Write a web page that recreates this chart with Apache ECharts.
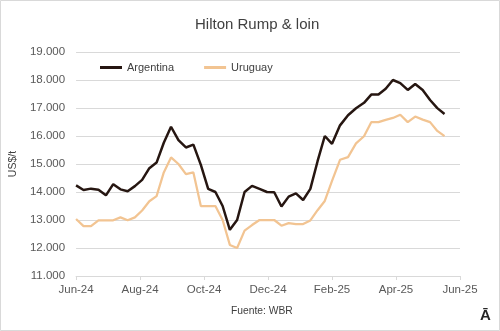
<!DOCTYPE html>
<html>
<head>
<meta charset="utf-8">
<script src="https://cdn.jsdelivr.net/npm/echarts@6/dist/echarts.min.js"></script>
<style>
  html, body { margin: 0; padding: 0; background: #ffffff; }
  #chart { width: 500px; height: 331px; }
</style>
</head>
<body>
<div id="chart"></div>
<script>
// Weekly observations starting 1 Jun 2024
const startDate = '2024-06-01';
const argentina = [
  14235, 14070, 14120, 14080, 13880, 14280, 14095, 14025, 14210, 14435,
  14850, 15050, 15760, 16330, 15850, 15590, 15690, 14970, 14110, 14000,
  13500, 12650, 13000, 14000, 14220, 14110, 14000, 13990, 13480, 13835,
  13950, 13715, 14110, 15100, 16000, 15720, 16380, 16740, 16990, 17185,
  17480, 17480, 17685, 18000, 17890, 17645, 17860, 17645, 17285, 16995,
  16785
];
const uruguay = [
  13035, 12780, 12780, 12990, 12990, 12990, 13095, 12990, 13095, 13340,
  13670, 13850, 14700, 15235, 15000, 14640, 14700, 13500, 13500, 13500,
  13000, 12110, 12000, 12620, 12820, 13000, 13000, 13000, 12795, 12890,
  12855, 12855, 12985, 13350, 13680, 14400, 15150, 15245, 15735, 15990,
  16495, 16495, 16575, 16645, 16760, 16495, 16695, 16585, 16495, 16180,
  15995
];
const xTickLabels = ['Jun-24', 'Aug-24', 'Oct-24', 'Dec-24', 'Feb-25', 'Apr-25', 'Jun-25'];
const seriesNames = ['Argentina', 'Uruguay'];

// convert each weekly date to a fractional month position (0 = 1 Jun 2024)
function monthPos(d) {
  const y = d.getUTCFullYear(), m = d.getUTCMonth();
  const dim = new Date(Date.UTC(y, m + 1, 0)).getUTCDate();
  return (y - 2024) * 12 + (m - 5) + (d.getUTCDate() - 1) / dim;
}
const t0 = Date.parse(startDate + 'T00:00:00Z');
const xs = argentina.map((_, i) => monthPos(new Date(t0 + i * 7 * 86400000)));

const font = "'Liberation Sans', Arial, sans-serif";
const chart = echarts.init(document.getElementById('chart'), null, { renderer: 'canvas' });
chart.setOption({
  animation: false,
  backgroundColor: '#ffffff',
  textStyle: { fontFamily: font },
  title: {
    text: 'Hilton Rump & loin',
    left: 195, top: 17, padding: 0,
    textStyle: { fontFamily: font, fontSize: 15, fontWeight: 'normal', color: '#404040' }
  },
  legend: {
    left: 100, top: 62, padding: 0,
    icon: 'rect', itemWidth: 22, itemHeight: 3, itemGap: 30,
    textStyle: { fontFamily: font, fontSize: 11, color: '#404040' },
    data: seriesNames
  },
  grid: { left: 68, right: 40, top: 52, bottom: 55 },
  xAxis: {
    type: 'value', min: 0, max: 12, interval: 2,
    axisLine: { show: true, lineStyle: { color: '#d9d9d9', width: 1 } },
    axisTick: { show: true, length: 4, lineStyle: { color: '#d9d9d9' } },
    splitLine: { show: false },
    axisLabel: {
      margin: 8, fontSize: 11.5, color: '#595959', fontFamily: font,
      formatter: v => xTickLabels[Math.round(v / 2)]
    }
  },
  yAxis: {
    type: 'value', min: 11000, max: 19000, interval: 1000,
    name: 'US$/t', nameLocation: 'middle', nameRotate: 90, nameGap: 52,
    nameTextStyle: { fontSize: 10.5, color: '#404040', fontFamily: font },
    axisLine: { show: false }, axisTick: { show: false },
    splitLine: { lineStyle: { color: '#d9d9d9', width: 1 } },
    axisLabel: {
      margin: 11, fontSize: 11.5, color: '#595959', fontFamily: font,
      formatter: v => (v / 1000).toFixed(3)
    }
  },
  series: [
    {
      name: seriesNames[0], type: 'line', symbol: 'none',
      lineStyle: { color: '#261611', width: 2.5 }, itemStyle: { color: '#261611' },
      data: argentina.map((v, i) => [xs[i], v]), z: 3
    },
    {
      name: seriesNames[1], type: 'line', symbol: 'none',
      lineStyle: { color: '#f2c492', width: 2.25 }, itemStyle: { color: '#f2c492' },
      data: uruguay.map((v, i) => [xs[i], v]), z: 2
    }
  ],
  graphic: [
    { type: 'rect', shape: { x: 0.5, y: 0.5, width: 499, height: 330 },
      style: { fill: 'none', stroke: '#d9d9d9', lineWidth: 1 }, silent: true },
    { type: 'text', left: 231, top: 306,
      style: { text: 'Fuente: WBR', fontSize: 10.3, fill: '#404040', fontFamily: font } },
    { type: 'text', left: 480, top: 308,
      style: { text: 'Ā', fontSize: 15, fontWeight: 'bold', fill: '#262626', fontFamily: font } }
  ]
});
</script>
</body>
</html>
